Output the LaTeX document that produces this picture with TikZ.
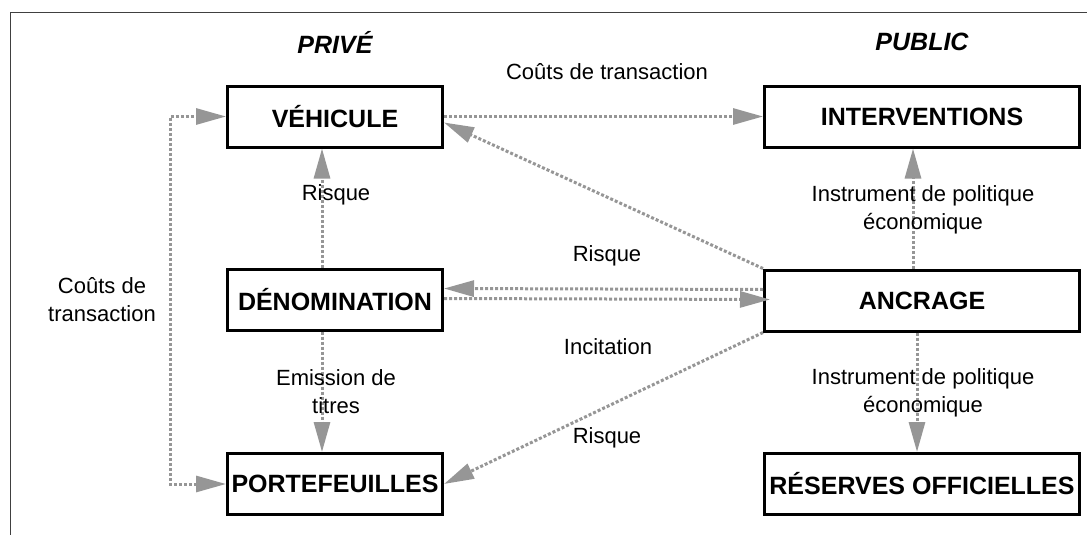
\documentclass[tikz,border=0pt]{standalone}
\usepackage{fontspec}
\setmainfont{Liberation Sans}
\usepackage{xcolor}
\usetikzlibrary{arrows.meta, positioning, calc}
\definecolor{flowgray}{RGB}{150, 150, 150}

\begin{document}
\begin{tikzpicture}[
  x=1pt, y=-1pt,
  every node/.style={font=\fontsize{22}{28}\selectfont},
  box/.style={draw=black, line width=3pt, minimum height=61pt, inner sep=0pt, font=\fontsize{25}{30}\selectfont\bfseries},
  side/.style={font=\fontsize{25}{30}\selectfont\bfseries\itshape},
  arrow/.style={-{Triangle[length=30pt, width=16pt]}, line width=3pt, color=flowgray, dash pattern=on 3pt off 2pt},
  biarrow/.style={arrow, {Triangle[length=30pt, width=16pt]}-{Triangle[length=30pt, width=16pt]}},
  lbl/.style={align=center, inner sep=1pt}
]
  \useasboundingbox (0,0) rectangle (1087,535);
  \draw[line width=1pt, black!75] (1087,13) -- (10,13) -- (10,535);

  % Titres
  \node[side] (prive) at (335, 42) {PRIVÉ};
  \node[side] (public) at (922, 42) {PUBLIC};

  % Cases
  \node[box, minimum width=215pt] (vehicule) at (335, 116.5) {VÉHICULE};
  \node[box, minimum width=215pt] (denom) at (335, 299.5) {DÉNOMINATION};
  \node[box, minimum width=215pt] (portef) at (335, 484) {PORTEFEUILLES};
  \node[box, minimum width=315pt] (interv) at (922, 116.5) {INTERVENTIONS};
  \node[box, minimum width=315pt] (ancrage) at (922, 300.5) {ANCRAGE};
  \node[box, minimum width=315pt] (reserves) at (922, 484) {RÉSERVES OFFICIELLES};

  % Fleches
  \draw[arrow] (vehicule.east) -- (interv.west);
  \draw[arrow] (ancrage.north west) -- ([yshift=-6pt]vehicule.east);
  \draw[arrow] ([yshift=11pt]ancrage.west) -- ([yshift=11pt]denom.west -| denom.east);
  \draw[arrow] ([yshift=1pt]denom.east) -- ([xshift=7pt, yshift=1pt]ancrage.west);
  \draw[arrow] (ancrage.south west) -- (portef.east);
  \draw[arrow] ([xshift=-13pt]denom.north) -- ([xshift=-13pt]vehicule.south);
  \draw[arrow] ([xshift=-13pt]denom.south) -- ([xshift=-13pt]portef.north);
  \draw[arrow] ([xshift=-9pt]ancrage.north) -- ([xshift=-9pt]interv.south);
  \draw[arrow] ([xshift=-5pt]ancrage.south) -- ([xshift=-5pt]reserves.north);
  \draw[biarrow] (portef.west) -- ++(-56,0) |- (vehicule.west);

  % Etiquettes
  \node[lbl] (l-couts) at (607, 72) {Coûts de transaction};
  \node[lbl] (l-risque1) at (336, 195) {Risque};
  \node[lbl] (l-risque2) at (607, 256) {Risque};
  \node[lbl] (l-incit) at (608, 347) {Incitation};
  \node[lbl] (l-risque3) at (607, 438) {Risque};
  \node[lbl] (l-emission) at (336, 392) {Emission de\\titres};
  \node[lbl] (l-instr1) at (923, 210) {Instrument de politique\\économique};
  \node[lbl] (l-instr2) at (923, 393) {Instrument de politique\\économique};
  \node[lbl] (l-couts2) at (102, 300) {Coûts de\\transaction};
\end{tikzpicture}
\end{document}
